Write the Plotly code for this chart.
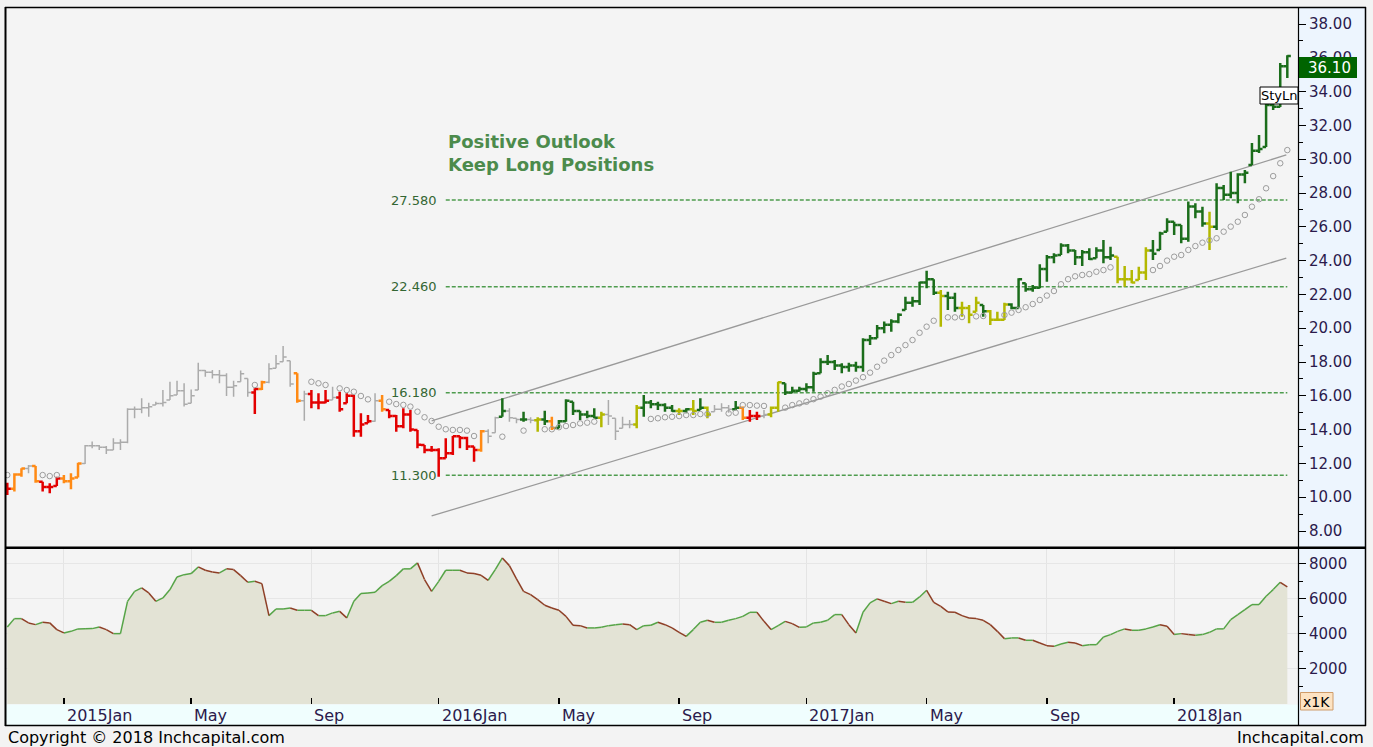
import plotly.graph_objects as go
import pandas as pd

W, H = 1373, 747

# ---------------- data ----------------
dates = pd.date_range("2014-11-07", periods=182, freq="7D")

bar_color_codes = list(
    "ROOGORRROOO"
    "GGGGGGGGGGGGGGGGGGGGGGGG"
    "RO" "GGGG" "O" "G" "RRR" "G" "RRRRR" "G" "O"
    "RRRRRRRRRRRRR" "O" "GG" "D" "GG" "D" "G" "V" "D" "O"
    "DDDDDD" "V" "GGGG" "V" "DDDDD" "V" "D" "V" "D" "V"
    "GGG" "D" "O" "RR" "G" "VV"
    "DDDDDDDDDDDDDDDDDDDDDD" "V" "DD" "VVV" "D" "VVV"
    "DDDDDDDDDDDDDDD" "VVVVV" "DDDDDDDD" "V" "DDDDDDDDDDD"
)

high = [
    10.86, 11.41, 11.71, 11.91, 11.85, 10.92, 10.83, 11.21, 11.31, 11.41,
    12.04, 13.09, 13.29, 13.09, 13.03, 13.49, 13.43, 15.26, 15.36, 15.85,
    15.59, 15.65, 16.34, 16.83, 16.89, 16.74, 16.38, 17.96, 17.53, 17.53,
    17.53, 17.33, 16.89, 17.49, 17.03, 16.44, 16.89, 17.92, 18.41, 18.95,
    18.08, 17.33, 16.30, 16.34, 16.15, 16.34, 16.54, 16.24, 16.15, 16.05,
    14.96, 14.86, 16.15, 16.05, 15.16, 14.86, 15.26, 15.16, 13.98, 13.09,
    13.03, 12.89, 13.49, 13.62, 13.62, 13.58, 13.00, 13.98, 14.02, 14.76,
    15.85, 15.26, 14.67, 15.06, 14.73, 14.73, 15.12, 14.76, 14.57, 15.79,
    15.65, 15.12, 15.12, 15.26, 15.06, 15.75, 14.67, 14.76, 14.57, 15.46,
    16.05, 15.75, 15.65, 15.56, 15.46, 15.26, 15.26, 15.75, 15.85, 15.36,
    15.46, 15.56, 15.46, 15.69, 15.36, 15.16, 15.06, 15.16, 15.36, 16.83,
    16.74, 16.54, 16.54, 16.74, 17.43, 18.22, 18.41, 18.12, 17.92, 17.96,
    18.02, 19.40, 19.60, 20.19, 20.39, 20.53, 20.88, 21.86, 21.86, 22.75,
    23.40, 22.89, 22.26, 22.16, 22.10, 21.57, 21.37, 21.86, 21.37, 21.08,
    20.98, 21.51, 21.47, 22.95, 22.66, 22.56, 23.78, 24.33, 24.43, 25.02,
    24.98, 24.63, 24.63, 24.73, 24.79, 25.22, 24.82, 24.23, 23.68, 23.44,
    23.64, 24.79, 25.22, 25.71, 26.50, 26.30, 26.10, 27.49, 27.39, 27.19,
    26.89, 28.57, 28.47, 29.26, 29.17, 29.36, 30.96, 31.43, 33.33, 33.33,
    35.69, 36.15,
]

low = [
    10.13, 10.33, 11.21, 11.41, 10.86, 10.33, 10.23, 10.66, 10.83, 10.47,
    11.17, 11.96, 12.89, 12.79, 12.56, 12.79, 12.79, 13.19, 14.67, 14.96,
    14.76, 15.46, 15.36, 15.75, 16.05, 15.36, 15.56, 16.34, 17.13, 17.03,
    16.74, 15.99, 15.95, 16.83, 15.95, 14.92, 16.34, 16.74, 17.63, 18.02,
    16.54, 15.59, 14.53, 15.26, 15.20, 15.56, 15.75, 15.06, 15.56, 13.58,
    13.58, 14.37, 14.47, 15.06, 14.67, 13.88, 14.08, 13.88, 12.89, 12.60,
    12.69, 11.21, 12.30, 12.50, 12.89, 12.79, 12.10, 12.69, 13.19, 13.82,
    14.76, 14.47, 14.37, 14.47, 14.37, 13.88, 14.27, 13.98, 14.08, 14.47,
    14.86, 14.57, 14.67, 14.67, 14.14, 14.27, 13.38, 14.08, 14.08, 14.08,
    14.76, 15.26, 15.16, 15.06, 15.06, 14.86, 14.96, 14.86, 15.16, 14.67,
    15.06, 15.06, 15.00, 15.16, 14.57, 14.47, 14.57, 14.67, 14.73, 15.06,
    16.05, 16.15, 16.24, 16.24, 16.24, 17.33, 17.82, 17.53, 17.33, 17.43,
    17.43, 17.43, 19.01, 19.40, 19.70, 19.79, 20.29, 21.08, 21.27, 21.37,
    22.36, 21.96, 20.09, 21.08, 20.98, 20.68, 20.29, 20.98, 20.68, 20.19,
    20.44, 20.49, 21.12, 21.18, 22.16, 22.16, 22.36, 22.75, 23.84, 24.33,
    24.43, 23.74, 23.68, 24.04, 24.14, 23.84, 24.04, 22.66, 22.46, 22.66,
    22.85, 22.85, 24.04, 24.63, 25.71, 25.51, 25.02, 25.12, 26.50, 26.01,
    24.63, 25.81, 27.59, 27.69, 27.39, 28.57, 29.66, 30.37, 30.72, 32.91,
    33.09, 34.80,
]

open_ = [
    10.70, 10.50, 11.35, 11.70, 11.85, 10.92, 10.60, 10.66, 11.10, 10.95,
    11.17, 12.00, 13.05, 13.05, 12.95, 12.80, 13.20, 13.25, 15.20, 15.20,
    15.30, 15.46, 15.55, 15.75, 16.05, 16.30, 15.56, 16.34, 17.50, 17.40,
    17.25, 17.20, 16.50, 16.83, 17.03, 16.20, 16.40, 16.80, 17.63, 18.02,
    18.08, 17.33, 15.70, 16.10, 15.60, 15.60, 15.75, 15.90, 15.56, 16.00,
    13.90, 14.37, 14.50, 15.70, 15.16, 14.80, 14.20, 14.90, 13.98, 13.09,
    12.80, 12.80, 12.30, 12.60, 13.60, 13.50, 13.00, 12.80, 13.90, 13.82,
    14.76, 15.10, 14.67, 14.60, 14.60, 14.55, 14.60, 14.50, 14.10, 14.50,
    15.65, 15.10, 14.90, 14.80, 14.70, 14.90, 14.67, 14.08, 14.30, 14.30,
    15.30, 15.60, 15.50, 15.45, 15.30, 15.10, 15.10, 15.20, 15.16, 15.30,
    15.06, 15.20, 15.30, 15.20, 15.30, 14.70, 14.80, 14.80, 14.90, 15.30,
    16.74, 16.20, 16.30, 16.40, 16.50, 17.33, 18.00, 18.00, 17.80, 17.70,
    17.80, 17.70, 19.30, 19.40, 20.00, 20.20, 20.40, 21.08, 21.50, 21.60,
    22.70, 22.89, 22.10, 21.90, 21.80, 21.20, 21.20, 20.98, 21.37, 21.00,
    20.50, 20.50, 21.40, 21.20, 22.66, 22.30, 22.40, 23.50, 24.20, 24.33,
    24.90, 24.60, 24.20, 24.50, 24.14, 24.60, 24.20, 24.23, 22.90, 22.90,
    22.85, 23.30, 24.60, 24.63, 25.71, 26.30, 26.10, 25.30, 27.20, 26.90,
    26.20, 26.00, 28.30, 27.90, 28.00, 29.10, 29.66, 30.50, 30.72, 33.20,
    33.10, 35.50,
]

close = [
    10.50, 11.35, 11.70, 11.85, 10.95, 10.60, 10.60, 11.10, 10.95, 11.10,
    12.00, 13.05, 13.05, 12.95, 12.80, 13.20, 13.25, 15.20, 15.20, 15.30,
    15.35, 15.55, 15.60, 16.00, 16.30, 15.50, 16.00, 17.50, 17.40, 17.25,
    17.20, 16.50, 16.60, 17.30, 16.20, 16.40, 16.80, 17.60, 17.90, 18.30,
    16.70, 15.70, 16.10, 15.60, 15.60, 15.70, 15.90, 15.20, 16.00, 13.90,
    14.30, 14.50, 15.70, 15.20, 14.80, 14.20, 14.90, 14.00, 13.10, 12.80,
    12.80, 12.30, 12.60, 13.60, 13.50, 13.00, 12.80, 13.90, 13.60, 14.70,
    15.10, 14.70, 14.60, 14.60, 14.55, 14.60, 14.50, 14.10, 14.50, 15.70,
    15.10, 14.90, 14.80, 14.70, 14.90, 14.80, 13.90, 14.30, 14.30, 15.30,
    15.60, 15.50, 15.45, 15.30, 15.10, 15.10, 15.20, 15.10, 15.30, 14.90,
    15.20, 15.30, 15.20, 15.30, 14.70, 14.80, 14.80, 14.90, 15.30, 16.80,
    16.20, 16.30, 16.40, 16.50, 17.30, 18.00, 18.00, 17.80, 17.70, 17.80,
    17.70, 19.30, 19.40, 20.00, 20.20, 20.40, 20.80, 21.50, 21.60, 22.70,
    22.90, 22.10, 21.90, 21.80, 21.20, 21.20, 20.80, 21.50, 21.00, 20.50,
    20.50, 21.40, 21.20, 22.90, 22.30, 22.40, 23.50, 24.20, 24.30, 24.90,
    24.60, 24.20, 24.50, 24.10, 24.60, 24.20, 24.30, 22.90, 22.90, 22.70,
    23.30, 24.60, 24.40, 25.60, 26.30, 26.10, 25.30, 27.20, 26.90, 26.20,
    26.00, 28.30, 27.90, 28.00, 29.10, 29.20, 30.50, 30.60, 33.20, 33.10,
    35.50, 36.10,
]

volume = [
    4390, 4865, 4865, 4620, 4523, 4655, 4620, 4240, 4050, 4140,
    4280, 4290, 4295, 4390, 4240, 4010, 4010, 5850, 6420, 6615,
    6330, 5850, 6045, 6520, 7240, 7370, 7430, 7810, 7620, 7525,
    7470, 7700, 7660, 7315, 6935, 6990, 6860, 5035, 5415, 5415,
    5470, 5340, 5340, 5340, 5035, 5035, 5190, 5280, 4905, 5850,
    6290, 6330, 6365, 6745, 6990, 7315, 7700, 7700, 8040, 7090,
    6420, 6990, 7620, 7620, 7620, 7470, 7430, 7335, 7050, 7660,
    8325, 7885, 7130, 6420, 6235, 5950, 5625, 5470, 5340, 4995,
    4485, 4465, 4335, 4335, 4370, 4465, 4520, 4560, 4520, 4240,
    4465, 4485, 4655, 4520, 4335, 4085, 3855, 4240, 4655, 4770,
    4655, 4655, 4770, 4865, 4995, 5225, 5225, 4710, 4240, 4465,
    4710, 4580, 4370, 4390, 4620, 4655, 4770, 5095, 5095, 4520,
    4050, 5225, 5760, 5990, 5850, 5720, 5850, 5795, 5795, 6100,
    6480, 5795, 5565, 5245, 5225, 5035, 4905, 4865, 4770, 4520,
    4140, 3725, 3765, 3765, 3630, 3630, 3480, 3325, 3285, 3420,
    3515, 3480, 3325, 3380, 3380, 3820, 3955, 4140, 4280, 4200,
    4200, 4280, 4390, 4520, 4425, 3955, 4010, 3955, 3915, 3955,
    4085, 4280, 4280, 4810, 5095, 5380, 5665, 5665, 6140, 6520,
    6935, 6670,
]

styln = [
    11.31, None, None, None, None, 11.31, 11.25, 11.31, None, None,
    None, None, None, None, None, None, None, None, None, None,
    None, None, None, None, None, None, None, None, None, None,
    None, None, None, None, None, 16.64, None, None, None, None,
    None, None, None, 16.83, 16.74, 16.64, None, 16.44, 16.34, 16.24,
    15.99, 15.79, None, None, 15.65, 15.51, 15.46, 15.36, 15.06, 14.73,
    14.51, 14.17, 14.02, 13.98, 13.98, 13.94, 13.62, None, None, None,
    13.58, None, None, 13.94, None, None, 14.02, 14.02, 14.14, 14.21,
    14.27, 14.37, 14.41, 14.47, None, None, None, None, None, None,
    None, 14.63, 14.67, 14.73, 14.76, 14.80, 14.86, 14.86, 14.92, 14.92,
    None, None, 14.96, 15.00, 15.45, 15.45, 15.42, 15.40, None, None,
    15.30, 15.45, 15.55, 15.65, 15.80, 15.95, 16.15, 16.35, 16.55, 16.70,
    16.90, 17.10, 17.37, 17.72, 18.08, 18.41, 18.71, 19.00, 19.30, 19.73,
    20.09, 20.44, None, 20.64, 20.64, 20.66, None, 20.70, 20.72, None,
    None, 20.78, 20.92, 21.08, 21.24, 21.43, 21.67, 21.93, 22.20, 22.60,
    22.90, 23.07, 23.15, 23.20, 23.34, 23.44, 23.60, None, None, None,
    None, None, 23.44, 23.68, 24.00, 24.23, 24.33, 24.63, 24.86, 25.06,
    25.20, 25.32, 25.71, 26.01, 26.30, 26.70, 27.19, 27.63, 28.28, 29.00,
    29.76, 30.54,
]

tick_dates = ["2015-01-02", "2015-05-08", "2015-09-04", "2016-01-08", "2016-05-06",
              "2016-09-02", "2017-01-06", "2017-05-05", "2017-09-01", "2018-01-05"]
tick_labels = ["2015Jan", "May", "Sep", "2016Jan", "May", "Sep", "2017Jan", "May", "Sep", "2018Jan"]

levels = [27.58, 22.46, 16.18, 11.30]
level_dates = ["2016-01-15", "2018-04-27"]

channel_dates = ["2016-01-01", "2018-04-26"]
channel_upper = [14.51, 30.25]
channel_lower = [8.89, 24.15]

last_price = 36.10
x_range = ["2014-11-05 17:00", "2018-05-07 14:00"]

# ---------------- styling ----------------
COLORS = {"R": "#e30000", "O": "#ff8a14", "G": "#ababab", "D": "#1b6d1b", "V": "#b3b800"}
WIDTHS = {"R": 2.5, "O": 2.5, "G": 1.5, "D": 2.5, "V": 2.5}
FONT = "DejaVu Sans, Verdana, sans-serif"


def px_x(x):
    return x / W


def px_y(y):
    return 1 - y / H


fig = go.Figure()

# volume area + coloured line
fig.add_trace(go.Scatter(x=dates, y=volume, mode="lines", fill="tozeroy",
                         fillcolor="#e3e3d5", line=dict(width=0), xaxis="x2", yaxis="y2",
                         hoverinfo="skip", showlegend=False))
up_x, up_y, dn_x, dn_y = [], [], [], []
for i in range(len(volume) - 1):
    if volume[i + 1] >= volume[i]:
        up_x += [dates[i], dates[i + 1], None]
        up_y += [volume[i], volume[i + 1], None]
    else:
        dn_x += [dates[i], dates[i + 1], None]
        dn_y += [volume[i], volume[i + 1], None]
fig.add_trace(go.Scatter(x=up_x, y=up_y, mode="lines", line=dict(color="#56a447", width=1.5),
                         xaxis="x2", yaxis="y2", hoverinfo="skip", showlegend=False))
fig.add_trace(go.Scatter(x=dn_x, y=dn_y, mode="lines", line=dict(color="#8e3f26", width=1.5),
                         xaxis="x2", yaxis="y2", hoverinfo="skip", showlegend=False))

# OHLC bars grouped by colour
for code in ["G", "O", "R", "V", "D"]:
    idx = [i for i, c in enumerate(bar_color_codes) if c == code]
    col = COLORS[code]
    fig.add_trace(go.Ohlc(
        x=[dates[i] for i in idx],
        open=[open_[i] for i in idx], high=[high[i] for i in idx],
        low=[low[i] for i in idx], close=[close[i] for i in idx],
        increasing=dict(line=dict(color=col, width=WIDTHS[code])),
        decreasing=dict(line=dict(color=col, width=WIDTHS[code])),
        tickwidth=0.5, xaxis="x", yaxis="y", hoverinfo="skip", showlegend=False))

# StyLn markers
fig.add_trace(go.Scatter(x=dates, y=styln, mode="markers",
                         marker=dict(symbol="circle-open", size=5.5, color="#9c9c9c", line=dict(width=1)),
                         xaxis="x", yaxis="y", hoverinfo="skip", showlegend=False))

shapes = []
# backgrounds
shapes.append(dict(type="rect", xref="paper", yref="paper", x0=px_x(1298), x1=px_x(1366),
                   y0=px_y(726), y1=px_y(7), fillcolor="#edf5fe", line=dict(width=0), layer="below"))
shapes.append(dict(type="rect", xref="paper", yref="paper", x0=px_x(6), x1=px_x(1298),
                   y0=px_y(725.5), y1=px_y(704.5), fillcolor="#f0fefe", line=dict(width=0), layer="below"))

# level dashed lines
for lv in levels:
    shapes.append(dict(type="line", xref="x", yref="y", x0=level_dates[0], x1=level_dates[1],
                       y0=lv, y1=lv, line=dict(color="#4e9c4e", width=1.5, dash="4px,2px"), layer="below"))
# channel lines
for vals in (channel_upper, channel_lower):
    shapes.append(dict(type="line", xref="x", yref="y", x0=channel_dates[0], x1=channel_dates[1],
                       y0=vals[0], y1=vals[1], line=dict(color="#9a9a9a", width=1.3), layer="below"))


# frame lines
def hline(y, x0, x1, w=1.5):
    shapes.append(dict(type="line", xref="paper", yref="paper", x0=px_x(x0), x1=px_x(x1),
                       y0=px_y(y), y1=px_y(y), line=dict(color="black", width=w), layer="above"))


def vline(x, y0, y1, w=1.5):
    shapes.append(dict(type="line", xref="paper", yref="paper", x0=px_x(x), x1=px_x(x),
                       y0=px_y(y0), y1=px_y(y1), line=dict(color="black", width=w), layer="above"))


hline(7.5, 5, 1366, 1.5)
hline(547.8, 5, 1366, 2.6)
hline(725.5, 5, 1366, 1.5)
vline(5.5, 7, 726, 2)
vline(1298.5, 7, 726, 1.2)
vline(1365.5, 7, 726, 1.5)

# last-price box and StyLn tag
shapes.append(dict(type="rect", xref="paper", yref="paper", x0=px_x(1299), x1=px_x(1357),
                   y0=px_y(78), y1=px_y(57), fillcolor="#006400", line=dict(width=0), layer="above"))
shapes.append(dict(type="rect", xref="paper", yref="paper", x0=px_x(1260), x1=px_x(1298),
                   y0=px_y(104), y1=px_y(87), fillcolor="white", line=dict(color="black", width=1),
                   layer="above"))
shapes.append(dict(type="rect", xref="paper", yref="paper", x0=px_x(1300.5), x1=px_x(1333),
                   y0=px_y(710), y1=px_y(692.5), fillcolor="#fde3c3", line=dict(color="#cf9c6a", width=1),
                   layer="above"))

annotations = []
# x tick labels
for d, lab in zip(tick_dates, tick_labels):
    annotations.append(dict(x=d, xref="x2", y=px_y(715), yref="paper", text=lab, showarrow=False,
                            xanchor="left", yanchor="middle", xshift=1,
                            font=dict(family=FONT, size=16, color="#2b1a4c")))
# level labels
for lv in levels:
    annotations.append(dict(x=px_x(439), xref="paper", y=lv, yref="y", text=f"{lv:.3f}",
                            showarrow=False, xanchor="right", yanchor="middle",
                            font=dict(family=FONT, size=13, color="#336633")))
# outlook text
annotations.append(dict(x=px_x(446), xref="paper", y=px_y(141), yref="paper", text="<b>Positive Outlook</b>",
                        showarrow=False, xanchor="left", yanchor="middle",
                        font=dict(family=FONT, size=18, color="#4c8b4c")))
annotations.append(dict(x=px_x(446), xref="paper", y=px_y(165), yref="paper", text="<b>Keep Long Positions</b>",
                        showarrow=False, xanchor="left", yanchor="middle",
                        font=dict(family=FONT, size=18, color="#4c8b4c")))
# last price tag
annotations.append(dict(x=px_x(1306), xref="paper", y=px_y(67.5), yref="paper", text=f"{last_price:.2f}",
                        showarrow=False, xanchor="left", yanchor="middle",
                        font=dict(family=FONT, size=15, color="white")))
annotations.append(dict(x=px_x(1279), xref="paper", y=px_y(95.5), yref="paper", text="StyLn",
                        showarrow=False, xanchor="center", yanchor="middle",
                        font=dict(family=FONT, size=13, color="black")))
annotations.append(dict(x=px_x(1316.7), xref="paper", y=px_y(701.5), yref="paper", text="x1K",
                        showarrow=False, xanchor="center", yanchor="middle",
                        font=dict(family=FONT, size=14, color="black")))
# footer
annotations.append(dict(x=px_x(6), xref="paper", y=px_y(737), yref="paper",
                        text="Copyright © 2018 Inchcapital.com", showarrow=False,
                        xanchor="left", yanchor="middle", font=dict(family=FONT, size=16, color="black")))
annotations.append(dict(x=px_x(1366), xref="paper", y=px_y(737), yref="paper",
                        text="Inchcapital.com", showarrow=False,
                        xanchor="right", yanchor="middle", font=dict(family=FONT, size=16, color="black")))

x_domain = [px_x(6), px_x(1298)]
fig.update_layout(
    width=W, height=H, margin=dict(l=0, r=0, t=0, b=0),
    paper_bgcolor="#f3f3f3", plot_bgcolor="#f4f4f4",
    showlegend=False, hovermode=False,
    xaxis=dict(domain=x_domain, range=x_range, type="date", anchor="y",
               showticklabels=False, ticks="", showgrid=False, zeroline=False,
               rangeslider=dict(visible=False), fixedrange=True),
    yaxis=dict(domain=[px_y(547), px_y(8)], range=[7.053, 38.947], side="right", anchor="x",
               tickmode="linear", tick0=0, dtick=2, tickformat=".2f",
               ticks="outside", ticklen=7, tickcolor="black", tickwidth=1,
               minor=dict(dtick=1, tick0=0, ticks="outside", ticklen=4, tickcolor="black", showgrid=False),
               showgrid=False, zeroline=False, showline=False, fixedrange=True,
               tickfont=dict(family=FONT, size=15, color="#2b1a4c")),
    xaxis2=dict(domain=x_domain, range=x_range, type="date", anchor="y2",
                tickmode="array", tickvals=tick_dates, showticklabels=False,
                ticks="inside", ticklen=6, tickcolor="black", tickwidth=1.5,
                showgrid=True, gridcolor="#e4e4e4", gridwidth=1, zeroline=False,
                rangeslider=dict(visible=False), fixedrange=True),
    yaxis2=dict(domain=[px_y(704), px_y(549)], range=[0, 8832], side="right", anchor="x2",
                tickmode="array", tickvals=[2000, 4000, 6000, 8000],
                ticktext=["2000", "4000", "6000", "8000"],
                ticks="outside", ticklen=7, tickcolor="black", tickwidth=1,
                minor=dict(tickmode="array", tickvals=[1000, 3000, 5000, 7000], ticks="outside",
                           ticklen=4, tickcolor="black", showgrid=False),
                showgrid=True, gridcolor="#e6e6e6", gridwidth=1, zeroline=False, fixedrange=True,
                tickfont=dict(family=FONT, size=15, color="#2b1a4c")),
    shapes=shapes, annotations=annotations,
)

fig.write_html("out.html", config={"displayModeBar": False, "staticPlot": True},
               post_script="document.body.style.margin='0';document.body.style.overflow='hidden';")
